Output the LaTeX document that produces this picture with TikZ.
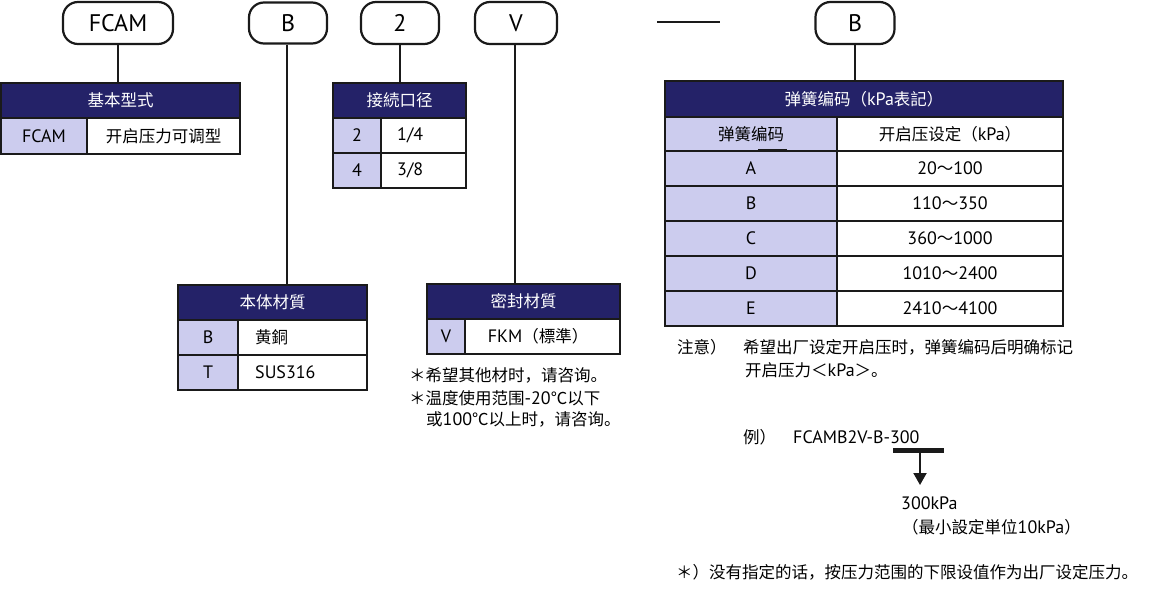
\documentclass[tikz,border=0pt]{standalone}
\usepackage{fontspec}
\setmainfont{Noto Sans CJK SC}
\newfontfamily\latn{PT Sans}[Scale=1.09]
\newcommand\la[1]{{\latn #1}}
\usetikzlibrary{arrows.meta}
\definecolor{navy}{RGB}{36,34,104}
\definecolor{lav}{RGB}{204,204,238}
\definecolor{bd}{RGB}{26,26,26}
\newcommand\tcell[7]{\node[#2, minimum width={#4-#3}, minimum height={#6-#5}] (#1) at ({(#3+#4)/2},{(#5+#6)/2}) {#7};}
\begin{document}
\begin{tikzpicture}[x=1pt,y=-1pt, font=\fontsize{16.5}{20}\selectfont,
  cellbase/.style={draw=bd, line width=2pt, inner sep=0pt, anchor=center},
  hdr/.style={cellbase, fill=navy, text=white},
  key/.style={cellbase, fill=lav},
  val/.style={cellbase, fill=white},
  pill/.style={draw=bd, line width=2.2pt, rounded corners=15pt, fill=white, inner sep=0pt, font=\latn\fontsize{22}{26}\selectfont},
  conn/.style={draw=bd, line width=2pt},
  txt/.style={inner sep=0pt, anchor=west},
  ctxt/.style={inner sep=0pt, anchor=center}]
\useasboundingbox (0,0) rectangle (1156,594);

% pills
\node[pill, minimum width=110, minimum height=42] (p1) at (118,23) {FCAM};
\node[pill, minimum width=78, minimum height=41] (p2) at (288,23) {B};
\node[pill, minimum width=78, minimum height=42] (p3) at (400,23) {2};
\node[pill, minimum width=82, minimum height=42] (p4) at (516,23) {V};
\node[pill, minimum width=79, minimum height=42] (p5) at (855,23) {B};

% dash
\coordinate (d1) at (657,22);
\coordinate (d2) at (720,22);
\draw[conn, line width=2.5pt] (d1) -- (d2);

% table 1
\tcell{h1}{hdr}{1}{240}{83}{118}{基本型式}
\tcell{k1}{key}{1}{87}{118}{154}{\la{FCAM}}
\tcell{v1}{val}{87}{240}{118}{154}{开启压力可调型}

% table 2
\tcell{h2}{hdr}{333}{466}{83}{118}{接続口径}
\tcell{k21}{key}{333}{381}{118}{153}{\la{2}}
\tcell{v21}{val}{381}{466}{118}{153}{}
\tcell{k22}{key}{333}{381}{153}{188}{\la{4}}
\tcell{v22}{val}{381}{466}{153}{188}{}
\node[txt] (t21) at (397,135.5) {\la{1/4}};
\node[txt] (t22) at (397,170.5) {\la{3/8}};

% table 3
\tcell{h3}{hdr}{178}{367}{285}{320}{本体材質}
\tcell{k31}{key}{178}{238}{320}{355}{\la{B}}
\tcell{v31}{val}{238}{367}{320}{355}{}
\tcell{k32}{key}{178}{238}{355}{390}{\la{T}}
\tcell{v32}{val}{238}{367}{355}{390}{}
\node[txt] (t31) at (255,337.5) {黄銅};
\node[txt] (t32) at (255,372.5) {\la{SUS316}};

% table 4
\tcell{h4}{hdr}{427}{620}{284}{319}{密封材質}
\tcell{k41}{key}{427}{465}{319}{354}{\la{V}}
\tcell{v41}{val}{465}{620}{319}{354}{}
\node[ctxt] (t41) at (538,336.5) {\la{FKM}（標準）};

% table 5
\tcell{h5}{hdr}{665}{1063}{81}{117}{弹簧编码（\la{kPa}表記）}
\tcell{k50}{key}{665}{837}{117}{151}{弹簧编码}
\tcell{v50}{val}{837}{1063}{117}{151}{开启压设定（\la{kPa}）}
\tcell{k51}{key}{665}{837}{151}{186}{\la{A}}
\tcell{v51}{val}{837}{1063}{151}{186}{\la{20}～\la{100}}
\tcell{k52}{key}{665}{837}{186}{221}{\la{B}}
\tcell{v52}{val}{837}{1063}{186}{221}{\la{110}～\la{350}}
\tcell{k53}{key}{665}{837}{221}{256}{\la{C}}
\tcell{v53}{val}{837}{1063}{221}{256}{\la{360}～\la{1000}}
\tcell{k54}{key}{665}{837}{256}{291}{\la{D}}
\tcell{v54}{val}{837}{1063}{256}{291}{\la{1010}～\la{2400}}
\tcell{k55}{key}{665}{837}{291}{326}{\la{E}}
\tcell{v55}{val}{837}{1063}{291}{326}{\la{2410}～\la{4100}}
\coordinate (u1) at (758,149.5);
\coordinate (u2) at (787,149.5);
\draw[conn] (u1) -- (u2);

% connectors
\draw[conn] (p1.south) -- (p1.south |- h1.north);
\draw[conn] ([xshift=-1pt]p2.south) -- ([xshift=-1pt]p2.south |- h3.north);
\draw[conn] (p3.south) -- (p3.south |- h2.north);
\draw[conn] ([xshift=-1pt]p4.south) -- ([xshift=-1pt]p4.south |- h4.north);
\draw[conn] (p5.south) -- (p5.south |- h5.north);

% notes under material
\node[txt] (n1) at (409,375) {＊希望其他材时，请咨询。};
\node[txt] (n2) at (409,398) {＊温度使用范围\la{-20}℃以下};
\node[txt] (n3) at (426,419) {或\la{100}℃以上时，请咨询。};

% right notes
\node[txt] (r1) at (677,347) {注意）};
\node[txt] (r2) at (743,347) {希望出厂设定开启压时，弹簧编码后明确标记};
\node[txt] (r3) at (745,370) {开启压力＜\la{kPa}＞。};
\node[txt] (r4) at (743,437) {例）};
\node[txt] (r5) at (793,437) {\la{FCAMB2V-B-300}};
\coordinate (b1) at (893,450);
\coordinate (b2) at (944,450);
\coordinate (bm) at (920,450);
\coordinate (be) at (920,485);
\draw[conn, line width=5pt] (b1) -- (b2);
\draw[conn, -{Triangle[width=13pt,length=12pt]}] (bm) -- (be);
\node[txt] (r6) at (901,503) {\la{300kPa}};
\node[txt] (r7) at (902,527) {（最小設定単位\la{10kPa}）};
\node[txt] (r8) at (676,572) {＊）没有指定的话，按压力范围的下限设值作为出厂设定压力。};
\end{tikzpicture}
\end{document}
